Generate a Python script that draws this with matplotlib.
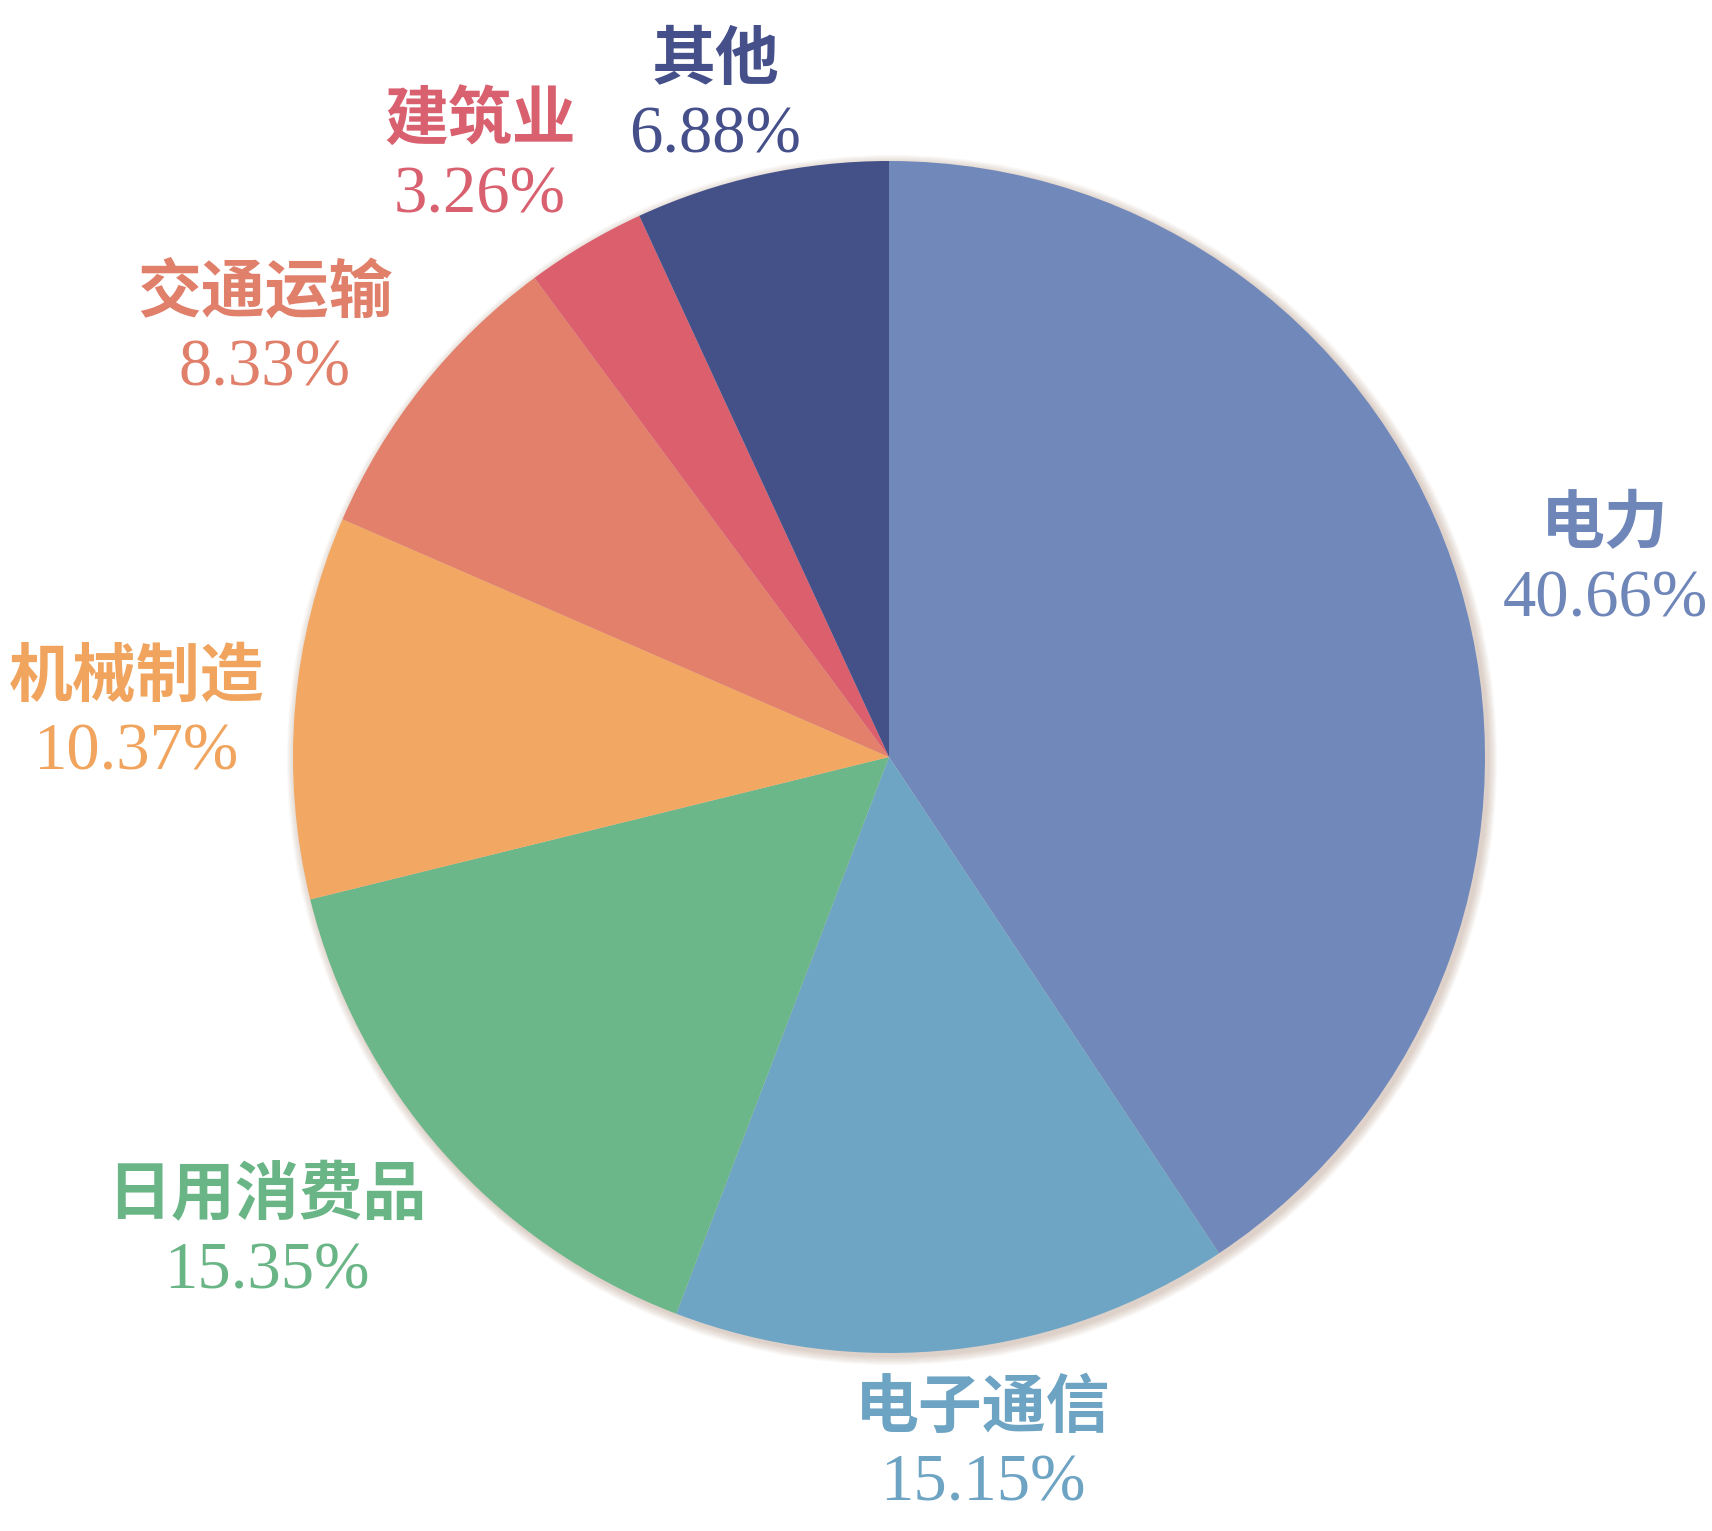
import matplotlib.pyplot as plt
from matplotlib.patches import Circle

# ── Data ───────────────────────────────────────────────────────────────
sectors = ["电力", "电子通信", "日用消费品", "机械制造", "交通运输", "建筑业", "其他"]
shares = [40.66, 15.15, 15.35, 10.37, 8.33, 3.26, 6.88]
wedge_colors = ["#7088ba", "#6ea5c5", "#6bb78a", "#f2a862", "#e2806c", "#dc5f6e", "#445088"]
text_colors = ["#6f86b9", "#6da3c3", "#6ab586", "#f0a45e", "#e07f6a", "#d9606f", "#45508a"]

# label anchor positions in figure pixels (x, y from top)
label_pos = [(1605, 524), (983, 1408), (267, 1196), (136, 677),
             (265, 293), (480, 120), (715, 60)]

W, H = 1712, 1531
cx, cy, R = 889, H - 757, 596

fig = plt.figure(figsize=(W / 100, H / 100), dpi=100)
ax = fig.add_axes([0, 0, 1, 1])
ax.set_xlim(0, W)
ax.set_ylim(0, H)
ax.set_aspect("equal")
ax.axis("off")

# soft shadow behind the pie
for i in range(10):
    ax.add_patch(Circle((cx + 3, cy - 3), R + 1 + i * 0.9, color="#b89a86",
                        alpha=0.05, lw=0, zorder=0))

ax.pie(shares, colors=wedge_colors, startangle=90, counterclock=False,
       center=(cx, cy), radius=R, frame=True,
       wedgeprops=dict(linewidth=0, zorder=1))
ax.set_xlim(0, W)
ax.set_ylim(0, H)
ax.axis("off")

for name, val, (x, y), c in zip(sectors, shares, label_pos, text_colors):
    ax.text(x, H - y, name, ha="center", va="center", color=c, fontsize=46,
            fontweight="bold", family=["Noto Sans CJK SC", "DejaVu Sans"])
    ax.text(x, H - y - 76, f"{val:.2f}%", ha="center", va="center", color=c,
            fontsize=48, family="Liberation Serif")

fig.savefig("out.png", dpi=100)
